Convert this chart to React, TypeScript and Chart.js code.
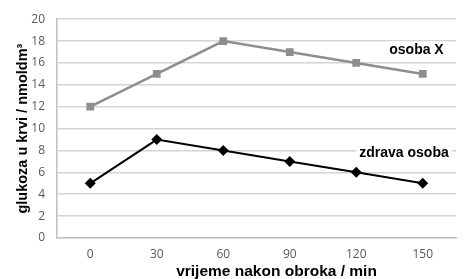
import React, { useEffect, useRef } from "react";
import { Chart, registerables } from "chart.js";

Chart.register(...registerables);

const categories = ["0", "30", "60", "90", "120", "150"];
const osobaX = [12, 15, 18, 17, 16, 15];
const zdravaOsoba = [5, 9, 8, 7, 6, 5];
const yTicks = [0, 2, 4, 6, 8, 10, 12, 14, 16, 18, 20];
const seriesNames = ["osoba X", "zdrava osoba"];
const xTitle = "vrijeme nakon obroka / min";
const yTitle = "glukoza u krvi / nmoldm³";

const labelPlugin = {
  id: "seriesLabels",
  afterDatasetsDraw(chart: any) {
    const { ctx, scales, chartArea } = chart;
    const xs = scales.x;
    const ys = scales.y;
    const items = [
      { text: seriesNames[0], x: xs.getPixelForValue(4) + 33, y: ys.getPixelForValue(17.15) },
      { text: seriesNames[1], x: xs.getPixelForValue(4) + 3, y: ys.getPixelForValue(7.75) },
    ];
    ctx.save();
    ctx.font = "bold 14px 'Liberation Sans', Arial, sans-serif";
    ctx.textBaseline = "middle";
    ctx.textAlign = "left";
    for (const it of items) {
      const w = ctx.measureText(it.text).width;
      ctx.fillStyle = "#ffffff";
      ctx.fillRect(it.x - 3, it.y - 9, w + 6, 18);
      ctx.fillStyle = "#000000";
      ctx.fillText(it.text, it.x, it.y);
    }
    // x axis title
    ctx.font = "bold 15.5px 'Liberation Sans', Arial, sans-serif";
    ctx.textAlign = "center";
    ctx.fillText(xTitle, (chartArea.left + chartArea.right) / 2 + 20, chartArea.bottom + 34);
    ctx.restore();
  },
};

export default function App() {
  const ref = useRef<HTMLCanvasElement>(null);
  useEffect(() => {
    document.body.style.margin = "0";
    const chart = new Chart(ref.current!, {
      type: "line",
      data: {
        labels: categories,
        datasets: [
          {
            label: seriesNames[0],
            data: osobaX,
            borderColor: "#8e8e8e",
            backgroundColor: "#8e8e8e",
            borderWidth: 2.5,
            pointStyle: "rect",
            pointRadius: 5.5,
            pointBorderWidth: 0,
            tension: 0,
          },
          {
            label: seriesNames[1],
            data: zdravaOsoba,
            borderColor: "#000000",
            backgroundColor: "#000000",
            borderWidth: 2,
            pointStyle: "rectRot",
            pointRadius: 5.5,
            pointBorderWidth: 0,
            tension: 0,
          },
        ],
      },
      options: {
        animation: false,
        responsive: false,
        maintainAspectRatio: false,
        layout: { padding: { top: 19, right: 8, left: 14, bottom: 0 } },
        plugins: { legend: { display: false }, tooltip: { enabled: false } },
        scales: {
          x: {
            offset: true,
            afterFit: (axis: any) => {
              axis.height = 41;
            },
            grid: { display: false, drawTicks: false },
            border: { display: true, color: "#bfbfbf", width: 1.5 },
            ticks: {
              color: "#595959",
              font: { family: "'Open Sans', sans-serif", size: 12 },
              padding: 9,
            },
            title: { display: false, text: xTitle },
          },
          y: {
            min: 0,
            max: 20,
            afterFit: (axis: any) => {
              axis.width = 43;
            },
            afterBuildTicks: (axis: any) => {
              axis.ticks = yTicks.map((v) => ({ value: v }));
            },
            grid: { color: "#d4d4d4", lineWidth: 1.5, drawTicks: false },
            border: { display: true, color: "#bfbfbf", width: 1.5 },
            ticks: {
              color: "#595959",
              font: { family: "'Open Sans', sans-serif", size: 12 },
              padding: 12,
            },
            title: {
              display: true,
              text: yTitle,
              color: "#000",
              font: { family: "'Liberation Sans', Arial, sans-serif", size: 14.5, weight: "bold" },
              padding: { top: 0, bottom: 2 },
            },
          },
        },
      },
      plugins: [labelPlugin],
    });
    return () => chart.destroy();
  }, []);
  return (
    <div style={{ width: 464, height: 279, background: "#fff" }}>
      <canvas ref={ref} width={464} height={279} style={{ display: "block" }} />
    </div>
  );
}
